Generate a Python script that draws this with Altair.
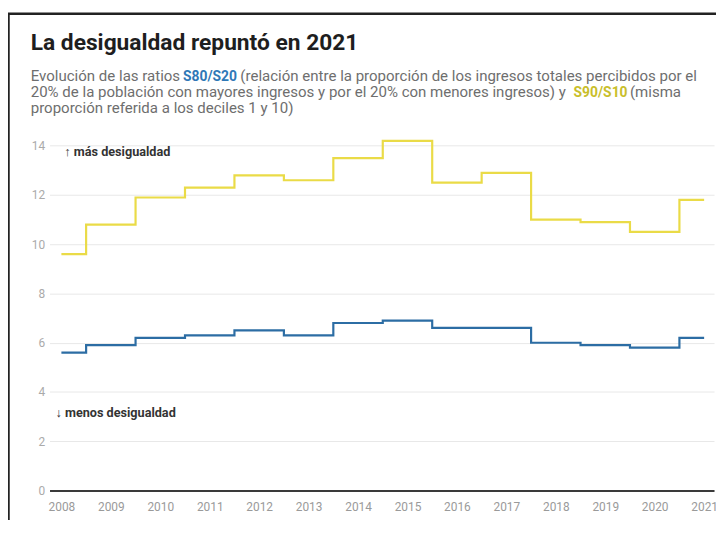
import altair as alt
import pandas as pd

# ---- data ----
years = list(range(2008, 2022))
s90_s10 = [9.6, 10.8, 11.9, 12.3, 12.8, 12.6, 13.5, 14.2, 12.5, 12.9, 11.0, 10.9, 10.5, 11.8]
s80_s20 = [5.6, 5.9, 6.2, 6.3, 6.5, 6.3, 6.8, 6.9, 6.6, 6.6, 6.0, 5.9, 5.8, 6.2]
series_names = ["S90/S10", "S80/S20"]
series_colors = ["#EADB47", "#2C6DA4"]
y_ticks = [0, 2, 4, 6, 8, 10, 12, 14]

title_text = "La desigualdad repuntó en 2021"
sub_line1 = ["Evolución de las ratios", "S80/S20",
             "(relación entre la proporción de los ingresos totales percibidos por el"]
sub_line2 = ["20% de la población con mayores ingresos y por el 20% con menores ingresos) y",
             "S90/S10", "(misma"]
sub_line3 = "proporción referida a los deciles 1 y 10)"
note_up = "↑ más desigualdad"
note_down = "↓ menos desigualdad"

FONT = "Roboto"

df = pd.DataFrame({
    "year": years + years,
    "value": s90_s10 + s80_s20,
    "serie": [series_names[0]] * len(years) + [series_names[1]] * len(years),
})


def txt(s, x, y, size, color, weight="normal", baseline="alphabetic"):
    return alt.Chart(alt.Data(values=[{"t": s}])).mark_text(
        align="left", baseline=baseline, fontSize=size, font=FONT,
        color=color, fontWeight=weight
    ).encode(x=alt.value(x), y=alt.value(y), text="t:N")


frame = alt.Chart(alt.Data(values=[{}])).mark_rect(
    filled=False, stroke="#222222", strokeWidth=2.5
).encode(x=alt.value(-41.5), y=alt.value(-121), x2=alt.value(900), y2=alt.value(900))

x_enc = alt.X(
    "year:Q",
    scale=alt.Scale(domain=[2007.76, 2021.2], nice=False, zero=False),
    axis=alt.Axis(values=years, format="d", title=None, grid=False, ticks=False,
                  tickSize=0, labelPadding=11, labelFontSize=12, labelFont=FONT,
                  labelColor="#9a9a9a", domainColor="#3a3a3a", domainWidth=2,
                  labelFlush=False, labelOverlap=False),
)
y_enc = alt.Y(
    "value:Q",
    scale=alt.Scale(domain=[0, 14.5], nice=False),
    axis=alt.Axis(values=y_ticks, title=None, domain=False, ticks=False, tickSize=0,
                  labelPadding=5, labelFontSize=12, labelFont=FONT,
                  labelColor="#aaaaaa", gridColor="#e8e8e8", gridWidth=1),
)

lines = alt.Chart(df).mark_line(interpolate="step", strokeWidth=2.2).encode(
    x=x_enc,
    y=y_enc,
    color=alt.Color("serie:N", scale=alt.Scale(domain=series_names, range=series_colors),
                    legend=None),
)

GRAY = "#6e6e6e"
SUB = 15.2
texts = [
    txt(title_text, -19, -84.5, 23, "#1e1e1e", "bold"),
    txt(sub_line1[0], -19, -53, SUB, GRAY),
    txt(sub_line1[1], 135, -53, 14, "#2F78B7", "bold"),
    txt(sub_line1[2], 193, -53, SUB, GRAY),
    txt(sub_line2[0], -19, -36.5, SUB, GRAY),
    txt(sub_line2[1], 530, -36.5, 14, "#C9BE2A", "bold"),
    txt(sub_line2[2], 587, -36.5, SUB, GRAY),
    txt(sub_line3, -19, -20.5, SUB, GRAY),
    txt(note_up, 15, 18.7, 12.8, "#333333", "bold", "middle"),
    txt(note_down, 6, 283, 12.8, "#333333", "bold", "middle"),
]

chart = alt.layer(frame, lines, *texts).properties(
    width=672,
    height=361,
    padding={"left": 42, "top": 124, "right": 2, "bottom": 27},
    autosize=alt.AutoSizeParams(type="none"),
).configure_view(stroke=None)

chart.save("out.html", embed_options={"renderer": "svg", "actions": False})
